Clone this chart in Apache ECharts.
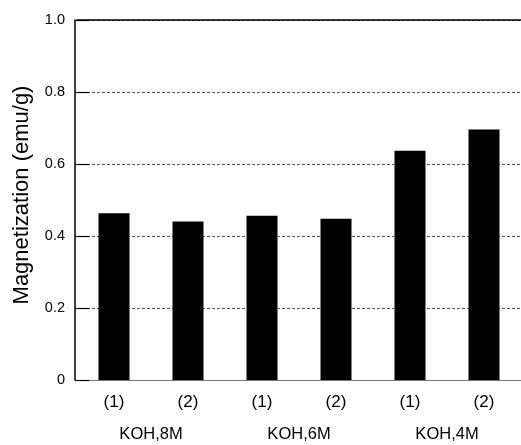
<!DOCTYPE html>
<html>
<head>
<meta charset="utf-8">
<script src="https://cdn.jsdelivr.net/npm/echarts@6/dist/echarts.min.js"></script>
<style>
html,body{margin:0;padding:0;background:#fff;}
#chart{width:521px;height:445px;}
</style>
</head>
<body>
<div id="chart"></div>
<script>
const categories = ['(1)', '(2)', '(1)', '(2)', '(1)', '(2)'];
const groups = ['KOH,8M', 'KOH,6M', 'KOH,4M'];
const magnetization = [0.463, 0.440, 0.456, 0.448, 0.637, 0.696];
const yTickValues = [0, 0.2, 0.4, 0.6, 0.8, 1.0];
const yTickLabels = ['0', '0.2', '0.4', '0.6', '0.8', '1.0'];
const yTitle = 'Magnetization (emu/g)';

const SANS = '"Liberation Sans", Arial, Helvetica, sans-serif';

const chart = echarts.init(document.getElementById('chart'), null, {renderer: 'canvas'});
chart.setOption({
  backgroundColor: '#ffffff',
  animation: false,
  grid: {left: 77, top: 20, width: 459, bottom: 65, containLabel: false},
  xAxis: [
    {
      type: 'category',
      data: categories,
      position: 'bottom',
      axisLine: {show: true, onZero: false, lineStyle: {color: '#777', width: 1}},
      axisTick: {show: false},
      axisLabel: {color: '#000', fontFamily: SANS, fontSize: 17, margin: 14},
      splitLine: {show: false}
    },
    {
      type: 'category',
      data: groups,
      position: 'bottom',
      offset: 36,
      axisLine: {show: false},
      axisTick: {show: false},
      axisLabel: {color: '#000', fontFamily: SANS, fontSize: 16.5, margin: 10},
      splitLine: {show: false}
    },
    {
      type: 'category',
      data: categories,
      position: 'top',
      axisLine: {show: true, onZero: false, lineStyle: {color: '#000', width: 1.5}},
      axisTick: {show: false},
      axisLabel: {show: false},
      splitLine: {show: false}
    }
  ],
  yAxis: {
    type: 'value',
    min: 0,
    max: 1.0,
    interval: 0.2,
    offset: 2,
    name: yTitle,
    nameLocation: 'middle',
    nameGap: 42,
    nameTextStyle: {color: '#000', fontFamily: SANS, fontSize: 22, padding: [0, 0, 0, 10]},
    axisLine: {show: true, lineStyle: {color: '#000', width: 1.5}},
    axisTick: {show: true, inside: true, length: 14, lineStyle: {color: '#000', width: 1.2}},
    axisLabel: {
      color: '#000', fontFamily: SANS, fontSize: 14.5, margin: 10,
      formatter: function (v) {
        const i = yTickValues.findIndex(t => Math.abs(t - v) < 1e-9);
        return i >= 0 ? yTickLabels[i] : '';
      }
    },
    splitLine: {show: true, lineStyle: {color: '#555', width: 1, type: [3, 2]}}
  },
  series: [{
    type: 'bar',
    xAxisIndex: 0,
    data: magnetization,
    barWidth: 31,
    itemStyle: {color: '#000'},
    z: 3
  }]
});
</script>
</body>
</html>
